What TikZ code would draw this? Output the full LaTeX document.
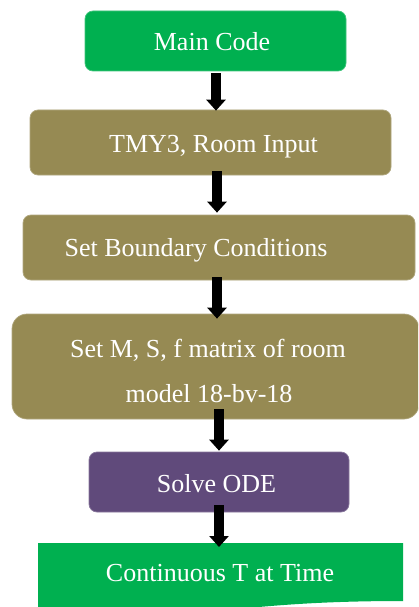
\documentclass[tikz,border=0pt]{standalone}
\usepackage{fontspec}
\setmainfont{Liberation Serif}
\usetikzlibrary{arrows.meta}
\definecolor{boxgreen}{HTML}{00B050}
\definecolor{boxolive}{HTML}{968A53}
\definecolor{boxpurple}{HTML}{604A7B}
\tikzset{
  box/.style={rectangle, rounded corners=8pt, inner sep=0pt, draw=#1!75!white, line width=0.7pt, fill=#1},
  txt/.style={anchor=base, text=white, inner sep=0pt, font=\fontsize{26}{30}\selectfont},
  blockarrow/.style={draw=black, line width=10pt, -{Triangle[width=19pt,length=11pt]}}
}
\begin{document}
\begin{tikzpicture}[x=1pt,y=-1pt]
\useasboundingbox (0,0) rectangle (418,607);
\fill[white] (0,0) rectangle (418,607);
\clip (0,0) rectangle (418,607);
% boxes
\node[box=boxgreen, minimum width=261pt, minimum height=60pt] (b1) at (215.5,41) {};
\node[box=boxolive, minimum width=361pt, minimum height=65pt] (b2) at (210.5,142.5) {};
\node[box=boxolive, minimum width=392pt, minimum height=65pt] (b3) at (219,247.5) {};
\node[box=boxolive, rounded corners=15pt, minimum width=407pt, minimum height=105pt] (b4) at (215.5,366.5) {};
\node[box=boxpurple, minimum width=260pt, minimum height=60pt] (b5) at (219,482) {};
% document shape
\coordinate (b6) at (220.5,543);
\fill[boxgreen] (38,543) -- (403,543) -- (403,601)
  .. controls (220.5,601) and (220.5,623) .. (38,610.5) -- cycle;
% texts
\node[txt] (t1) at (212,51) {Main Code};
\node[txt] (t2) at (213.5,152) {TMY3, Room Input};
\node[txt] (t3) at (196,256) {Set Boundary Conditions};
\node[txt] (t4a) at (208,357) {Set M, S, f matrix of room};
\node[txt] (t4b) at (209,402) {model 18-bv-18};
\node[txt] (t5) at (216.5,492) {Solve ODE};
\node[txt] (t6) at (220,581) {Continuous T at Time};
% arrows
\coordinate (x1) at (216,0);
\coordinate (x2) at (217,0);
\coordinate (x3) at (219,0);
\draw[blockarrow, shorten <=2pt, shorten >=-1pt] (b1.south -| x1) -- (b2.north -| x1);
\draw[blockarrow, shorten <=-4pt, shorten >=2pt] (b2.south -| x2) -- (b3.north -| x2);
\draw[blockarrow, shorten <=-3pt, shorten >=-5pt] (b3.south -| x2) -- (b4.north -| x2);
\draw[blockarrow, shorten <=-10pt, shorten >=1pt] (b4.south -| x3) -- (b5.north -| x3);
\draw[blockarrow, shorten <=-7pt, shorten >=-4pt] (b5.south -| x3) -- (b6 -| x3);
\end{tikzpicture}
\end{document}
